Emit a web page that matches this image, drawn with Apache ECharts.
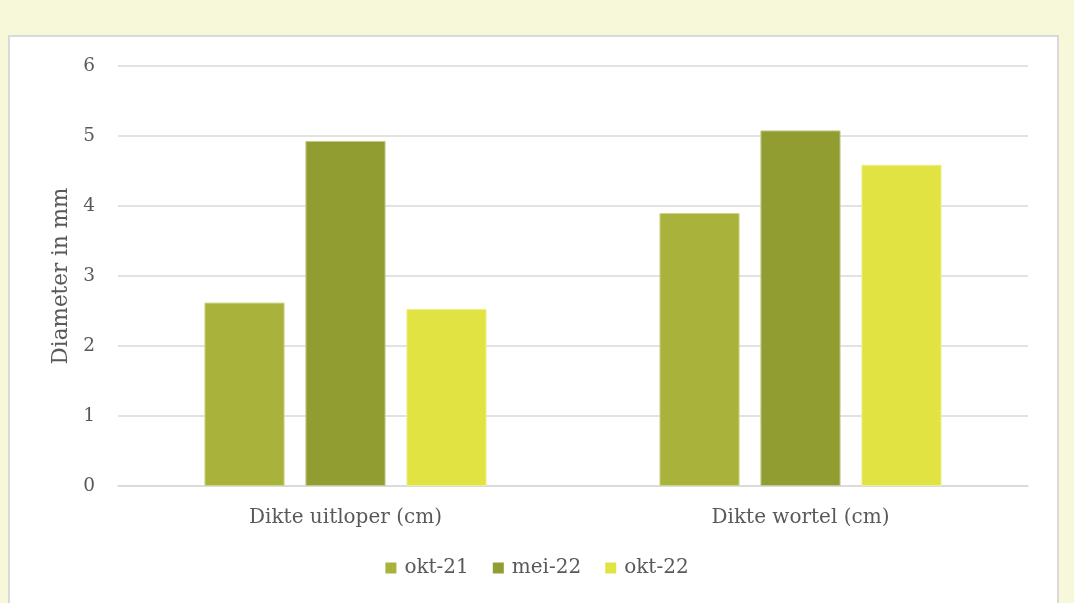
<!DOCTYPE html>
<html>
<head>
<meta charset="utf-8">
<script src="https://cdn.jsdelivr.net/npm/echarts@6/dist/echarts.min.js"></script>
<style>
  html, body { margin: 0; padding: 0; background: #f7f7d9; }
  #panel { position: absolute; left: 8px; top: 35px; width: 1047px; height: 600px;
           background: #fff; border: 2px solid #d9d9d9; }
  #chart { position: absolute; left: 0; top: 0; width: 1074px; height: 603px; }
</style>
</head>
<body>
<div id="panel"></div>
<div id="chart"></div>
<script>
// data
var categories = ['Dikte uitloper (cm)', 'Dikte wortel (cm)'];
var okt21 = [2.62, 3.9];
var mei22 = [4.93, 5.08];
var okt22 = [2.53, 4.59];

var font = '"DejaVu Serif", "Liberation Serif", serif';
var txt = '#595959';

var myChart = echarts.init(document.getElementById('chart'));
myChart.setOption({
  backgroundColor: 'transparent',
  textStyle: { fontFamily: font },
  legend: {
    bottom: 20,
    left: 'center',
    itemWidth: 11,
    itemHeight: 11,
    itemGap: 24,
    icon: 'rect',
    itemStyle: { borderWidth: 0 },
    textStyle: { fontFamily: font, fontSize: 20, color: txt, padding: [0, 0, 0, 3] },
    data: ['okt-21', 'mei-22', 'okt-22']
  },
  grid: { left: 118, right: 46, top: 66, bottom: 117 },
  xAxis: {
    type: 'category',
    data: categories,
    axisLine: { lineStyle: { color: '#d9d9d9', width: 1.5 } },
    axisTick: { show: false },
    axisLabel: { fontFamily: font, fontSize: 20, color: txt, margin: 22 }
  },
  yAxis: {
    type: 'value',
    min: 0, max: 6, interval: 1,
    name: 'Diameter in mm',
    nameLocation: 'middle',
    nameGap: 46,
    nameTextStyle: { fontFamily: font, fontSize: 21.5, color: txt },
    axisLabel: { fontFamily: font, fontSize: 18.5, color: txt, margin: 23 },
    splitLine: { lineStyle: { color: '#d9d9d9', width: 1.5 } }
  },
  series: [
    { name: 'okt-21', type: 'bar', data: okt21, barGap: '26%', barCategoryGap: '38%',
      itemStyle: { color: '#a9b23a', borderColor: '#cfd48a', borderWidth: 1 } },
    { name: 'mei-22', type: 'bar', data: mei22,
      itemStyle: { color: '#919d30', borderColor: '#c4ca8c', borderWidth: 1 } },
    { name: 'okt-22', type: 'bar', data: okt22,
      itemStyle: { color: '#e1e342', borderColor: '#eef08e', borderWidth: 1 } }
  ]
});
</script>
</body>
</html>
